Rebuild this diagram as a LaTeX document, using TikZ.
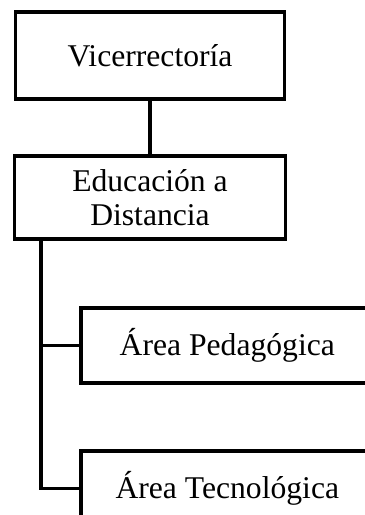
\documentclass[tikz,border=0pt]{standalone}
\usepackage{fontspec}
\setmainfont{Liberation Serif}
\usetikzlibrary{positioning}

\tikzset{
  caja/.style={draw, line width=2.6pt, rectangle, align=center, inner sep=0pt,
    font=\fontsize{22.5}{23.7}\selectfont},
  enlace/.style={line width=2.6pt}
}

\begin{document}
\begin{tikzpicture}[x=0.025cm, y=-0.025cm]
        \useasboundingbox (0,0) rectangle (364,515);
        \node[caja, minimum width=269*0.025cm, minimum height=87*0.025cm] (vice) at (150,55.5) {Vicerrectoría};
        \node[caja, minimum width=271*0.025cm, minimum height=83*0.025cm] (edu) at (150,197.5) {Educación a\\Distancia};
        \node[caja, minimum width=293*0.025cm, minimum height=75*0.025cm] (ped) at (227.3,345.5) {Área Pedagógica};
        \node[caja, minimum width=293*0.025cm, minimum height=75*0.025cm] (tec) at (227.3,488.5) {Área Tecnológica};
        \coordinate (tronco) at (40.7,239);
        \draw[enlace] (vice) -- (edu);
        \draw[enlace] (tronco) |- (ped.west);
        \draw[enlace] (tronco) |- (tec.west);
    \end{tikzpicture}
\end{document}
